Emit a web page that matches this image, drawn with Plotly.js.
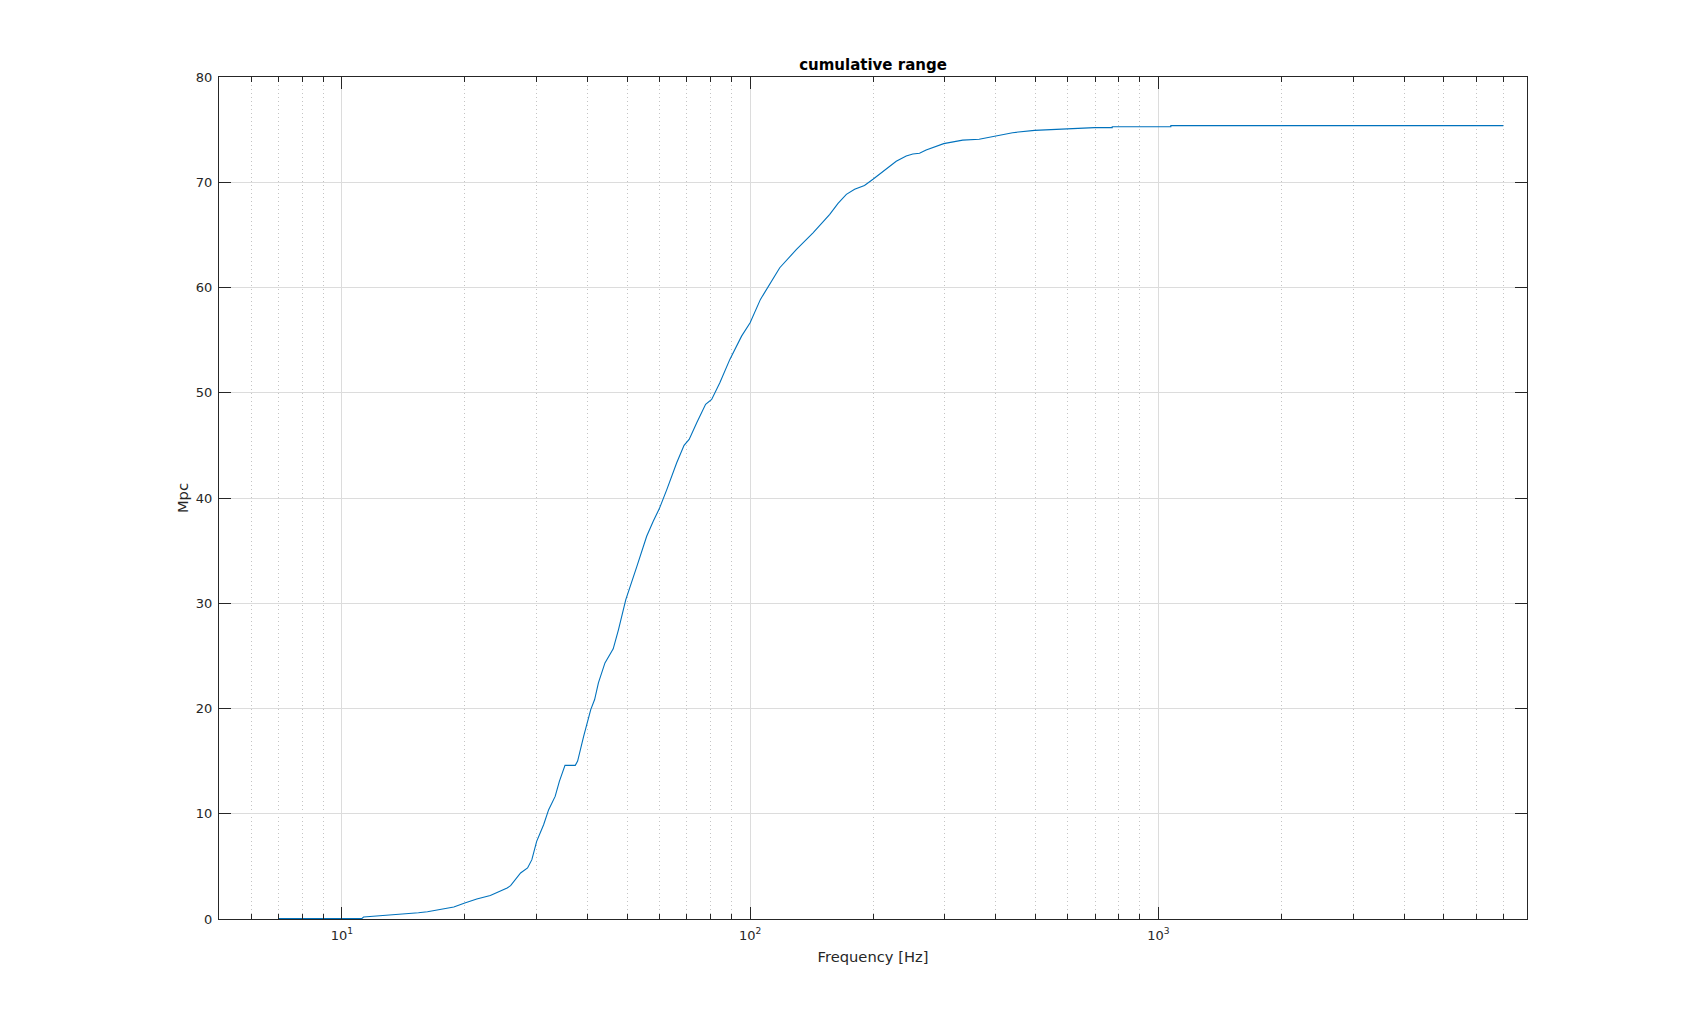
<!DOCTYPE html>
<html>
<head>
<meta charset="utf-8">
<script src="https://cdn.plot.ly/plotly-3.0.1.min.js"></script>
<style>
  html, body { margin: 0; padding: 0; background: #ffffff; }
  #chart { width: 1687px; height: 1033px; }
</style>
</head>
<body>
<div id="chart"></div>
<script>
// ---- data ----
const freqHz = [7, 11.2, 11.3, 12.2, 13.15, 14.4, 15.4, 16.2, 16.8, 17.7, 18.8, 20, 21.4, 23.1, 24.4, 25.4, 25.9,
  27.4, 28.5, 29.2, 30.0, 31.2, 32.1, 33.3, 34.1, 35.2, 37.3, 37.8, 39.1, 40.0, 40.7, 41.6, 42.5, 44.1, 46.2,
  47.6, 49.6, 52.8, 55.8, 57.9, 59.9, 62.5, 66.1, 68.9, 70.9, 74.0, 77.8, 80.5, 84.3, 89.2, 95.3, 100, 106.0,
  118.2, 129.9, 142.6, 156.7, 164.2, 172.1, 180.3, 190.6, 200, 215.6, 228, 241.2, 250.4, 260, 269.9, 298,
  331.7, 364, 397, 439.5, 497.6, 596, 697, 771, 771, 1073, 1073, 7000];
const rangeMpc = [0.05, 0.06, 0.19, 0.28, 0.38, 0.5, 0.6, 0.69, 0.79, 0.95, 1.14, 1.52, 1.90, 2.24, 2.62, 2.95, 3.17,
  4.37, 4.85, 5.64, 7.38, 8.96, 10.39, 11.65, 13.08, 14.6, 14.6, 15.0, 17.36, 18.94, 19.9, 20.85, 22.43, 24.33, 25.67,
  27.5, 30.35, 33.5, 36.37, 37.8, 38.97, 40.8, 43.35, 45.0, 45.56, 47.15, 48.9, 49.36, 50.95, 53.17, 55.38, 56.65, 58.87,
  61.88, 63.62, 65.2, 66.95, 68.0, 68.85, 69.33, 69.7, 70.28, 71.29, 72.0, 72.5, 72.68, 72.75, 73.06, 73.67,
  74.0, 74.08, 74.39, 74.71, 74.93, 75.09, 75.19, 75.19, 75.27, 75.27, 75.38, 75.38];
const xTickVals = [10, 100, 1000];
const xTickText = ['10<sup>1</sup>', '10<sup>2</sup>', '10<sup>3</sup>'];
const titleText = 'cumulative range';
const xTitle = 'Frequency [Hz]';
const yTitle = 'Mpc';

// minor log ticks (2..9 times each decade inside the axis range)
const xMin = 5, xMax = 8000;
const minorVals = [];
for (let d = 1; d <= 1000; d *= 10) {
  for (let k = 2; k <= 9; k++) {
    const v = k * d;
    if (v >= xMin && v <= xMax) minorVals.push(v);
  }
}

const axisColor = '#262626';
const font = 'DejaVu Sans, Liberation Sans, sans-serif';

const trace = {
  x: freqHz,
  y: rangeMpc,
  type: 'scatter',
  mode: 'lines',
  line: { color: '#0072BD', width: 1.1 },
  hoverinfo: 'x+y'
};

const layout = {
  width: 1687,
  height: 1033,
  paper_bgcolor: '#ffffff',
  plot_bgcolor: '#ffffff',
  margin: { l: 219, r: 160, t: 77, b: 114, pad: 0 },
  showlegend: false,
  font: { family: font, size: 13, color: axisColor },
  title: {
    text: '<b>' + titleText + '</b>',
    font: { family: font, size: 15, color: '#000000' },
    x: 0.5, xref: 'paper', xanchor: 'center',
    y: 1 - 65 / 1033, yref: 'container', yanchor: 'middle'
  },
  xaxis: {
    type: 'log',
    range: [Math.log10(xMin), Math.log10(xMax)],
    tickmode: 'array',
    tickvals: xTickVals,
    ticktext: xTickText,
    ticks: 'inside',
    ticklen: 12,
    tickwidth: 1,
    tickcolor: axisColor,
    ticklabelstandoff: 4,
    tickfont: { family: font, size: 13, color: axisColor },
    showline: true,
    linecolor: axisColor,
    linewidth: 1,
    mirror: 'allticks',
    showgrid: true,
    gridcolor: '#dcdcdc',
    gridwidth: 1,
    zeroline: false,
    minor: {
      tickmode: 'array',
      tickvals: minorVals,
      ticks: 'inside',
      ticklen: 5,
      tickwidth: 1,
      tickcolor: axisColor,
      showgrid: true,
      gridcolor: '#c4c4c4',
      griddash: '1px,3px',
      gridwidth: 1
    },
    title: { text: xTitle, font: { family: font, size: 14.7, color: axisColor }, standoff: 10 }
  },
  yaxis: {
    range: [0, 80],
    tickmode: 'linear',
    tick0: 0,
    dtick: 10,
    ticks: 'inside',
    ticklen: 12,
    tickwidth: 1,
    tickcolor: axisColor,
    ticklabelstandoff: 3,
    tickfont: { family: font, size: 13, color: axisColor },
    showline: true,
    linecolor: axisColor,
    linewidth: 1,
    mirror: 'allticks',
    showgrid: true,
    gridcolor: '#dcdcdc',
    gridwidth: 1,
    zeroline: false,
    title: { text: yTitle, font: { family: font, size: 14.7, color: axisColor }, standoff: 3 }
  }
};

Plotly.newPlot('chart', [trace], layout, { displayModeBar: false, staticPlot: true });
</script>
</body>
</html>
